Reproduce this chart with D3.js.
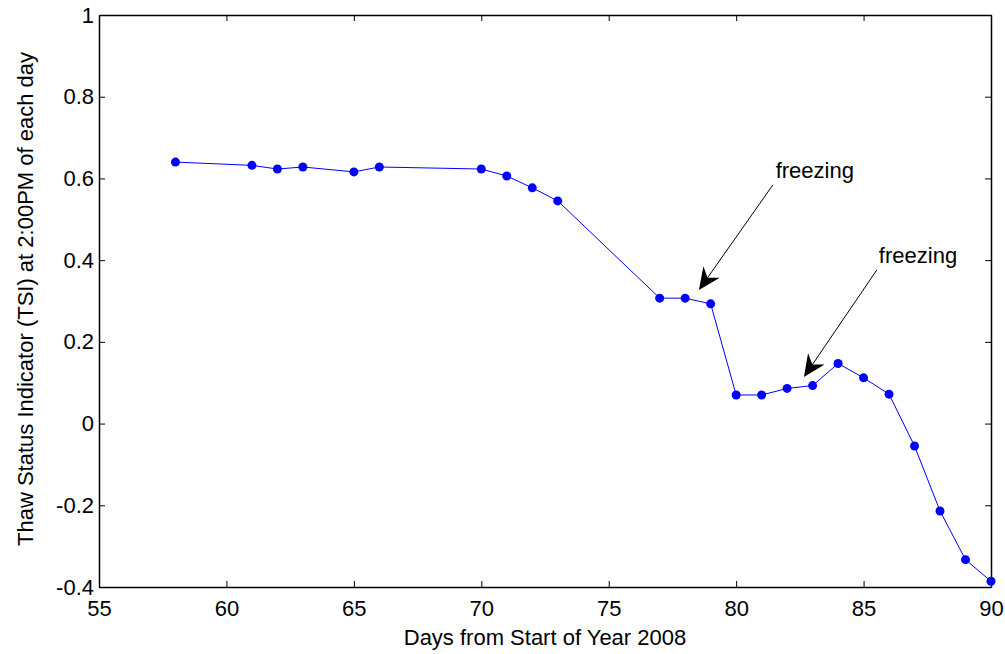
<!DOCTYPE html>
<html>
<head>
<meta charset="utf-8">
<script src="https://cdn.jsdelivr.net/npm/d3@7"></script>
<style>
  body { margin: 0; background: white; }
  text { font-family: "Liberation Sans", Arial, sans-serif; fill: black; }
</style>
</head>
<body>
<div id="chart"></div>
<script>
// data
var days = [58, 61, 62, 63, 65, 66, 70, 71, 72, 73, 77, 78, 79, 80, 81, 82, 83, 84, 85, 86, 87, 88, 89, 90];
var tsi = [0.640, 0.632, 0.623, 0.628, 0.616, 0.628, 0.623, 0.606, 0.577, 0.545, 0.307, 0.307, 0.293,
           0.070, 0.070, 0.086, 0.093, 0.147, 0.112, 0.072, -0.055, -0.214, -0.333, -0.386];
var xTicks = [55, 60, 65, 70, 75, 80, 85, 90];
var yTicks = [-0.4, -0.2, 0, 0.2, 0.4, 0.6, 0.8, 1];
// arrows: text position, tail and tip, all in data units
var notes = [
  { label: "freezing", tx: 81.55, ty: 0.594, x1: 81.44, y1: 0.584, x2: 78.54, y2: 0.327 },
  { label: "freezing", tx: 85.6, ty: 0.386, x1: 85.52, y1: 0.376, x2: 82.66, y2: 0.114 }
];

var width = 1005, height = 654;
var margin = { top: 15, right: 14, bottom: 67, left: 99 };

var svg = d3.select("#chart")
  .append("svg")
    .attr("width", width)
    .attr("height", height);

var x = d3.scaleLinear()
  .domain([55, 90])
  .range([margin.left, width - margin.right]);

var y = d3.scaleLinear()
  .domain([-0.4, 1])
  .range([height - margin.bottom, margin.top]);

// matlab prints a plain hyphen for negatives
var fmt = function(d){ return String(+d.toFixed(1)); };

// axes, ticks pointing inward like matlab
svg.append("g")
  .attr("transform", "translate(0," + y(-0.4) + ")")
  .call(d3.axisBottom(x).tickValues(xTicks).tickSizeInner(-6).tickSizeOuter(0).tickPadding(13))
  .call(function(g){ g.selectAll("text").style("font-size", "22px"); });

svg.append("g")
  .attr("transform", "translate(0," + y(1) + ")")
  .call(d3.axisTop(x).tickValues(xTicks).tickSizeInner(-6).tickSizeOuter(0).tickFormat(""));

svg.append("g")
  .attr("transform", "translate(" + x(55) + ",0)")
  .call(d3.axisLeft(y).tickValues(yTicks).tickSizeInner(-6).tickSizeOuter(0).tickPadding(5).tickFormat(fmt))
  .call(function(g){ g.selectAll("text").style("font-size", "22px"); });

svg.append("g")
  .attr("transform", "translate(" + x(90) + ",0)")
  .call(d3.axisRight(y).tickValues(yTicks).tickSizeInner(-6).tickSizeOuter(0).tickFormat(""));

svg.selectAll(".domain").attr("stroke", "#000").attr("stroke-width", 1.5);
svg.selectAll(".tick line").attr("stroke", "#000");

// axis labels
svg.append("text")
  .attr("x", (x(55) + x(90)) / 2)
  .attr("y", 645)
  .attr("text-anchor", "middle")
  .style("font-size", "22px")
  .text("Days from Start of Year 2008");

svg.append("text")
  .attr("transform", "translate(33,299) rotate(-90)")
  .attr("text-anchor", "middle")
  .style("font-size", "22px")
  .text("Thaw Status Indicator (TSI) at 2:00PM of each day");

// series
var points = days.map(function(d, i){ return { day: d, v: tsi[i] }; });

svg.append("path")
  .datum(points)
  .attr("fill", "none")
  .attr("stroke", "#0000ff")
  .attr("stroke-width", 1)
  .attr("d", d3.line()
    .x(function(d){ return x(d.day); })
    .y(function(d){ return y(d.v); }));

svg.append("g")
  .selectAll("circle")
  .data(points)
  .enter()
  .append("circle")
    .attr("cx", function(d){ return x(d.day); })
    .attr("cy", function(d){ return y(d.v); })
    .attr("r", 4.5)
    .attr("fill", "#0000ff");

// annotations with matlab style arrow heads
var ann = svg.append("g");
notes.forEach(function(n){
  var ax = x(n.x1), ay = y(n.y1), bx = x(n.x2), by = y(n.y2);
  var ang = Math.atan2(by - ay, bx - ax);
  var len = 22, half = 10, notch = 15;
  var ux = Math.cos(ang), uy = Math.sin(ang);
  var px = -uy, py = ux;
  var baseX = bx - ux * len, baseY = by - uy * len;
  var notchX = bx - ux * notch, notchY = by - uy * notch;
  ann.append("line")
    .attr("x1", ax).attr("y1", ay)
    .attr("x2", notchX).attr("y2", notchY)
    .attr("stroke", "#000").attr("stroke-width", 1);
  ann.append("path")
    .attr("d", "M" + bx + "," + by +
      "L" + (baseX + px * half) + "," + (baseY + py * half) +
      "L" + notchX + "," + notchY +
      "L" + (baseX - px * half) + "," + (baseY - py * half) + "Z")
    .attr("fill", "#000");
  ann.append("text")
    .attr("x", x(n.tx))
    .attr("y", y(n.ty) - 3)
    .style("font-size", "22px")
    .text(n.label);
});
</script>
</body>
</html>
